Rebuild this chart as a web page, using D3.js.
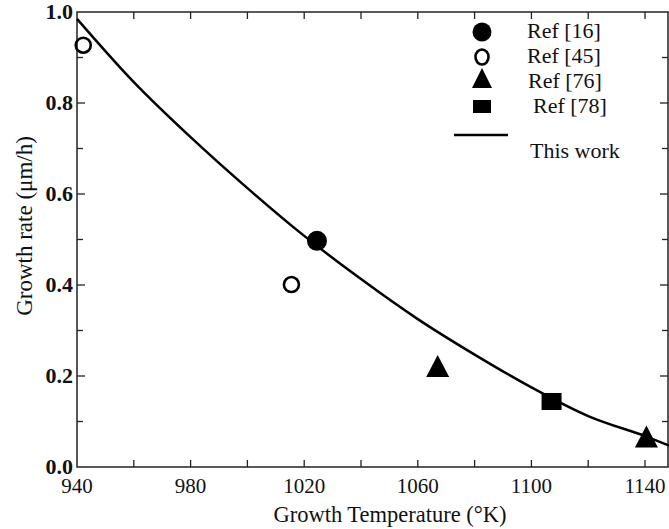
<html>
<head>
    <script src="https://d3js.org/d3.v7.min.js"></script>
    <style>
        body { margin: 0; background: #fff; }
    </style>
</head>
<body>
    <svg id="chart"></svg>
    <script>
        var W = 669, H = 529;

        // curve "This work"
        var fitT = [940, 960, 980, 1000, 1020, 1040, 1060, 1080, 1100, 1120, 1140, 1148.5];
        var fitRate = [0.985, 0.846, 0.725, 0.613, 0.508, 0.413, 0.325, 0.247, 0.175, 0.112, 0.068, 0.047];

        // reference points
        var ref16 = [[1024.5, 0.497]];
        var ref45 = [[942.2, 0.927], [1015.5, 0.401]];
        var ref76 = [[1067, 0.222], [1140.5, 0.067]];
        var ref78 = [[1107.1, 0.144]];

        var xMajor = [940, 980, 1020, 1060, 1100, 1140];
        var xMinor = [960, 980, 1000, 1020, 1040, 1060, 1080, 1100, 1120, 1140];
        var yMajor = [0.0, 0.2, 0.4, 0.6, 0.8, 1.0];
        var yMinor = [0.1, 0.2, 0.3, 0.4, 0.5, 0.6, 0.7, 0.8, 0.9];

        var legendLabels = ["Ref [16]", "Ref [45]", "Ref [76]", "Ref [78]", "This work"];

        var pL = 77, pR = 668, pT = 12, pB = 467;
        var serif = "Times New Roman, Times, Liberation Serif, Tinos, DejaVu Serif, serif";

        var x = d3.scaleLinear().domain([940, 1140]).range([pL, 645]);
        var y = d3.scaleLinear().domain([0, 1]).range([pB, pT]);

        var svg = d3.select("#chart").attr("width", W).attr("height", H)
            .style("font-family", serif);
        svg.append("rect").attr("width", W).attr("height", H).attr("fill", "#fff");

        // frame
        svg.append("rect")
            .attr("x", pL).attr("y", pT)
            .attr("width", pR - pL).attr("height", pB - pT)
            .attr("fill", "none").attr("stroke", "#222").attr("stroke-width", 1.5);

        var ticks = svg.append("g").attr("stroke", "#222").attr("stroke-width", 1.3);
        xMinor.forEach(function(d) {
            ticks.append("line").attr("x1", x(d)).attr("x2", x(d)).attr("y1", pB).attr("y2", pB - 7);
            ticks.append("line").attr("x1", x(d)).attr("x2", x(d)).attr("y1", pT).attr("y2", pT + 7);
        });
        yMinor.forEach(function(d) {
            var l = (Math.round(d * 10) % 2 == 0) ? 8 : 6;
            ticks.append("line").attr("x1", pL).attr("x2", pL + l).attr("y1", y(d)).attr("y2", y(d));
            ticks.append("line").attr("x1", pR).attr("x2", pR - l).attr("y1", y(d)).attr("y2", y(d));
        });

        svg.selectAll(".xl").data(xMajor).enter().append("text")
            .attr("x", function(d) { return x(d); })
            .attr("y", pB + 26)
            .attr("text-anchor", "middle")
            .style("font-family", serif)
            .attr("font-size", 21)
            .attr("fill", "#111")
            .text(function(d) { return d; });

        svg.selectAll(".yl").data(yMajor).enter().append("text")
            .attr("x", pL - 4)
            .attr("y", function(d) { return y(d) + 7; })
            .attr("text-anchor", "end")
            .style("font-family", serif)
            .attr("font-size", 22)
            .attr("font-weight", "bold")
            .attr("fill", "#111")
            .text(function(d) { return d.toFixed(1); });

        svg.append("text")
            .attr("x", 390).attr("y", 522)
            .attr("text-anchor", "middle").attr("font-size", 22.5)
            .style("font-family", serif).attr("fill", "#111")
            .text("Growth Temperature (\u00B0K)");

        svg.append("text")
            .attr("transform", "translate(32,226) rotate(-90)")
            .attr("text-anchor", "middle").attr("font-size", 23)
            .style("font-family", serif).attr("fill", "#111")
            .text("Growth rate (\u03BCm/h)");

        // fitted curve
        var line = d3.line()
            .x(function(d, i) { return x(d); })
            .y(function(d, i) { return y(fitRate[i]); })
            .curve(d3.curveCatmullRom);
        svg.append("path").datum(fitT)
            .attr("d", line)
            .attr("fill", "none").attr("stroke", "#000").attr("stroke-width", 2.5);

        function tri(cx, cy, w, h) {
            return "M" + cx + "," + (cy - h / 2) + "L" + (cx + w / 2) + "," + (cy + h / 2) + "L" + (cx - w / 2) + "," + (cy + h / 2) + "Z";
        }

        svg.selectAll(".r16").data(ref16).enter().append("circle")
            .attr("cx", function(d) { return x(d[0]); }).attr("cy", function(d) { return y(d[1]); })
            .attr("r", 10).attr("fill", "#000");
        svg.selectAll(".r45").data(ref45).enter().append("circle")
            .attr("cx", function(d) { return x(d[0]); }).attr("cy", function(d) { return y(d[1]); })
            .attr("r", 7.5).attr("fill", "none").attr("stroke", "#000").attr("stroke-width", 2.6);
        svg.selectAll(".r76").data(ref76).enter().append("path")
            .attr("d", function(d) { return tri(x(d[0]), y(d[1]), 23, 22); })
            .attr("fill", "#000");
        svg.selectAll(".r78").data(ref78).enter().append("rect")
            .attr("x", function(d) { return x(d[0]) - 10; }).attr("y", function(d) { return y(d[1]) - 8.5; })
            .attr("width", 20).attr("height", 17).attr("fill", "#000");

        // legend
        var lg = svg.append("g");
        var mx = 482;
        lg.append("circle").attr("cx", mx).attr("cy", 32).attr("r", 9.5).attr("fill", "#000");
        lg.append("ellipse").attr("cx", mx).attr("cy", 57).attr("rx", 6.5).attr("ry", 7.5).attr("fill", "none").attr("stroke", "#000").attr("stroke-width", 2.6);
        lg.append("path").attr("d", tri(mx, 78, 20, 20)).attr("fill", "#000");
        lg.append("rect").attr("x", mx - 9).attr("y", 100).attr("width", 18).attr("height", 13).attr("fill", "#000");
        lg.append("line").attr("x1", 454).attr("x2", 508).attr("y1", 135).attr("y2", 135)
            .attr("stroke", "#000").attr("stroke-width", 2.5);

        var lpos = [[527, 38], [527, 63], [528, 88], [533, 113], [530, 158]];
        legendLabels.forEach(function(t, i) {
            lg.append("text").attr("x", lpos[i][0]).attr("y", lpos[i][1])
                .style("font-family", serif).attr("fill", "#111")
                .attr("font-size", 22).text(t);
        });
    </script>
</body>
</html>
